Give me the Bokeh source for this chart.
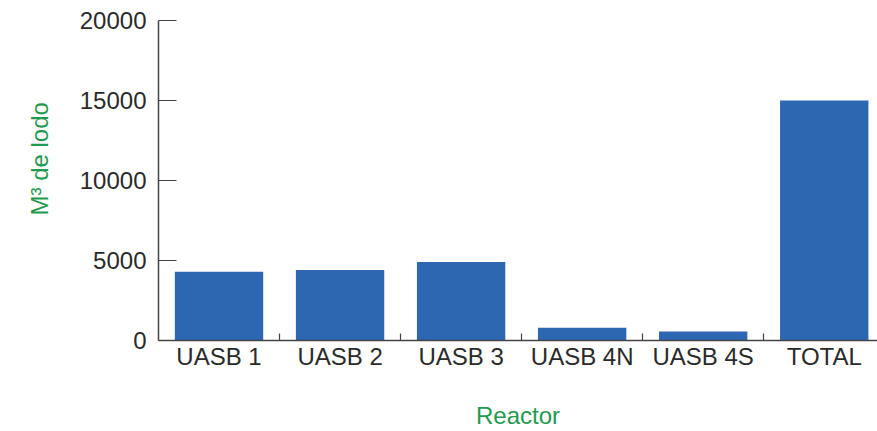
from bokeh.plotting import figure
from bokeh.models import FixedTicker, ColumnDataSource, Title
from bokeh.embed import file_html
from bokeh.resources import INLINE

categories = ["UASB 1", "UASB 2", "UASB 3", "UASB 4N", "UASB 4S", "TOTAL"]
values = [4300, 4400, 4900, 800, 560, 15000]
y_ticks = [0, 5000, 10000, 15000, 20000]

xs = [i + 0.5 for i in range(len(categories))]
src = ColumnDataSource(dict(x=xs, top=values))

p = figure(width=877, height=431, output_backend="svg", toolbar_location=None,
           x_range=(0, 5.94), y_range=(0, 20000),
           min_border_left=158, min_border_right=0, min_border_top=20, min_border_bottom=91)
p.outline_line_color = None
p.xgrid.visible = False
p.ygrid.visible = False
p.background_fill_color = "white"
p.border_fill_color = "white"

p.vbar(x="x", top="top", width=0.73, source=src, color="#2E67B1", line_color=None)

font = "Liberation Sans"
text_col = "#2a2a2a"
axis_col = "#444444"
green = "#1f9a4f"

# x axis
xa = p.xaxis[0]
xa.ticker = FixedTicker(ticks=xs, minor_ticks=[1, 2, 3, 4, 5])
xa.major_label_overrides = {x: c for x, c in zip(xs, categories)}
xa.major_tick_line_color = None
xa.major_tick_in = 0
xa.major_tick_out = 0
xa.minor_tick_in = 7
xa.minor_tick_out = 0
xa.minor_tick_line_color = axis_col
xa.minor_tick_line_width = 1.2
xa.axis_line_color = axis_col
xa.axis_line_width = 1.5
xa.major_label_text_font = font
xa.major_label_text_font_size = "24px"
xa.major_label_text_color = text_col
xa.major_label_standoff = 2
xa.axis_label = "Reactor"
xa.axis_label_text_font = font
xa.axis_label_text_font_size = "24px"
xa.axis_label_text_font_style = "normal"
xa.axis_label_text_color = green
xa.axis_label_standoff = 29

# y axis
ya = p.yaxis[0]
ya.ticker = FixedTicker(ticks=y_ticks, minor_ticks=[])
ya.major_tick_in = 18
ya.major_tick_out = 0
ya.major_tick_line_color = axis_col
ya.major_tick_line_width = 1.2
ya.axis_line_color = axis_col
ya.axis_line_width = 1.5
ya.major_label_text_font = font
ya.major_label_text_font_size = "24px"
ya.major_label_text_color = text_col
ya.major_label_standoff = 12

ytitle = Title(text="M³ de lodo", align="left", offset=125, standoff=44,
               vertical_align="top",
               text_font=font, text_font_size="24px", text_font_style="normal",
               text_color=green)
p.add_layout(ytitle, "left")

open("out.html", "w").write(file_html(p, INLINE))
